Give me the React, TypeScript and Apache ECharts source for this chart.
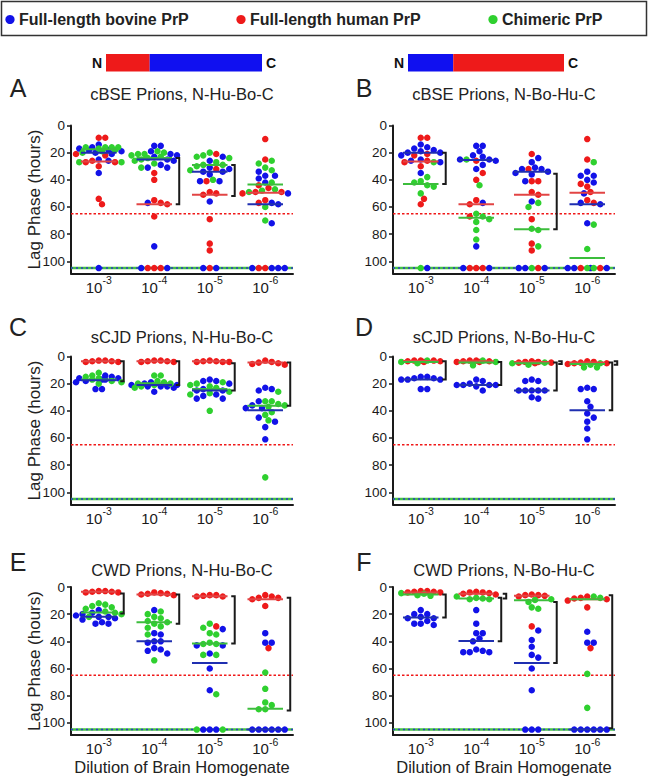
import React, { useEffect, useRef } from "react";
import * as echarts from "echarts";

// ---------- text ----------
const dilutionExponents = ["-3", "-4", "-5", "-6"];
const legendNames = ["Full-length bovine PrP", "Full-length human PrP", "Chimeric PrP"];
const panelLetters = ["A", "B", "C", "D", "E", "F"];
const panelTitles = [
  "cBSE Prions, N-Hu-Bo-C",
  "cBSE Prions, N-Bo-Hu-C",
  "sCJD Prions, N-Hu-Bo-C",
  "sCJD Prions, N-Bo-Hu-C",
  "CWD Prions, N-Hu-Bo-C",
  "CWD Prions, N-Bo-Hu-C",
];
const yAxisName = "Lag Phase (hours)";
const xAxisName = "Dilution of Brain Homogenate";
const terminusLabels = ["N", "C"];
// share of each chimeric construct taken by its N-terminal segment
const constructNShare = [0.28, 0.29];

const thresholdHours = 65;
const noAmplificationHours = 105;

// ---------- Panel A: cBSE, N-Hu-Bo-C ----------
const A_blue = [
  [14, 16, 17, 18, 18, 19, 20, 21, 25, 26, 35, 105],
  [15, 15, 19, 21, 22, 23, 25, 26, 29, 31, 31, 57, 89, 105, 105],
  [23, 26, 31, 32, 34, 34, 36, 41, 41, 56, 105, 105],
  [34, 37, 37, 39, 42, 50, 57, 58, 72, 105, 105, 105, 105],
];
const A_red = [
  [9, 9, 21, 22, 26, 27, 27, 30, 54, 58],
  [35, 40, 55, 57, 58, 67, 105, 105, 105],
  [21, 32, 41, 49, 50, 51, 69, 87, 92, 105],
  [10, 25, 44, 46, 49, 49, 50, 55, 57, 105, 105],
];
const A_green = [
  [16, 16, 16, 16, 17, 18, 19, 20, 27, 27],
  [19, 20, 21, 21, 22, 23, 24, 25, 26, 28, 31],
  [20, 22, 23, 24, 27, 29, 29, 30, 33, 40],
  [26, 28, 31, 33, 42, 47, 48, 49, 60, 70],
];
const A_blueMed = [20, 25, 34, 58];
const A_redMed = [26.5, 58, 51, 49.5];
const A_greenMed = [17.5, 24, 29, 43.5];
const A_brackets = [[1, 24, 58], [2, 29, 52]];
const A_smallBrackets: number[][] = [];

// ---------- Panel B: cBSE, N-Bo-Hu-C ----------
const B_blue = [
  [14, 16, 17, 18, 19, 20, 20, 22, 25, 26, 27, 35, 105],
  [15, 15, 19, 22, 23, 25, 25, 26, 29, 32, 57, 89, 105, 105],
  [24, 27, 31, 32, 32, 34, 35, 36, 41, 56, 105, 105, 105],
  [34, 37, 37, 40, 42, 50, 57, 58, 72, 105, 105, 105, 105],
];
const B_red = [
  [9, 9, 21, 22, 26, 27, 30, 54, 58],
  [26, 35, 40, 55, 58, 67, 105, 105, 105],
  [21, 32, 41, 41, 49, 51, 69, 87, 92, 105],
  [10, 25, 43, 45, 49, 55, 57, 105, 105],
];
const B_green = [
  [27, 38, 41, 42, 44, 45, 50, 105],
  [25, 44, 65, 67, 69, 71, 77, 84],
  [57, 60, 76, 77, 89, 105],
  [27, 73, 91, 105, 105],
];
const B_blueMed = [20, 25.5, 34, 58];
const B_redMed = [26.5, 58, 51, 49.5];
const B_greenMed = [43, 68, 76.5, 97.5];
const B_brackets = [[0, 20, 43], [2, 35.5, 76.5]];
const B_smallBrackets: number[][] = [];

// ---------- Panel C: sCJD, N-Hu-Bo-C ----------
const C_blue = [
  [14, 15, 16, 16, 17, 17, 18, 19, 24, 24],
  [19, 20, 21, 21, 22, 22, 22, 23, 26],
  [17, 18, 18, 20, 24, 25, 25, 28, 29, 31, 31],
  [23, 24, 25, 33, 36, 38, 38, 45, 48, 52, 61],
];
const C_red = [
  [3, 3, 3.5, 3.5, 4, 4],
  [3, 3, 3.5, 3.5, 4, 4],
  [3, 3.5, 3.5, 4, 4, 4],
  [3, 4, 4.5, 5, 5.5, 6],
];
const C_green = [
  [12, 14, 15, 16, 17, 18, 19, 20],
  [14, 14, 18, 19, 20, 20, 21, 22, 23],
  [19, 20, 21, 22, 23, 26, 27, 28, 40],
  [26, 33, 33, 35, 36, 37, 41, 43, 47, 89],
];
const C_blueMed = [17.5, 21, 25, 39.5];
const C_redMed = [3.5, 3.5, 3.5, 4.5];
const C_greenMed = [17, 19.7, 24, 36.3];
const C_brackets = [[0, 3.5, 18.3], [1, 3.5, 21], [2, 5, 25], [3, 4.5, 36.3]];
const C_smallBrackets: number[][] = [];

// ---------- Panel D: sCJD, N-Bo-Hu-C ----------
const D_blue = [
  [15, 15, 16, 16, 17, 17, 17, 24, 24],
  [17, 18, 20, 21, 21, 21, 21, 22, 25],
  [17, 18, 18, 25, 25, 25, 25, 25, 30, 31],
  [23, 24, 24, 33, 37, 42, 45, 48, 53, 61],
];
const D_red = [
  [3, 3, 3, 3.5, 3.5, 4],
  [3, 3, 3.5, 3.5, 4, 4],
  [3.5, 4, 4, 4.5, 4.5, 5],
  [3.5, 4, 4.5, 5, 5, 5.5],
];
const D_green = [
  [3, 4, 5],
  [3, 4, 6.5],
  [4.5, 5, 6],
  [5, 6, 8, 8],
];
const D_blueMed = [17, 21, 25, 39.5];
const D_redMed = [3.3, 3.5, 4, 4.5];
const D_greenMed = [4, 4.5, 5, 5.5];
const D_brackets = [[0, 3.5, 17], [1, 4, 21], [2, 4.5, 25], [3, 4.5, 39.5]];
const D_smallBrackets = [[2, 3.5, 5.5], [3, 3.5, 6]];

// ---------- Panel E: CWD, N-Hu-Bo-C ----------
const E_blue = [
  [17, 19, 20, 21, 22, 22, 23, 24, 26, 27, 27],
  [17, 34, 35, 40, 40, 41, 45, 46, 47, 49],
  [31, 43, 43, 49, 60, 76, 105, 105, 105],
  [34, 41, 41, 105, 105, 105, 105, 105, 105],
];
const E_red = [
  [3, 3, 3.5, 3.5, 4, 4],
  [4, 4.5, 5, 5, 5.5, 6],
  [6, 6, 6.5, 7, 7, 29],
  [6, 7, 8, 8, 9, 14, 45],
];
const E_green = [
  [12, 13, 14, 15, 16, 18, 19, 20, 22],
  [18, 20, 22, 23, 25, 26, 27, 29, 30, 35, 54],
  [27, 30, 34, 35, 41, 42, 42, 50, 50, 79, 105, 105],
  [63, 75, 85, 87, 90, 90],
];
const E_blueMed = [22, 40, 56, 105];
const E_redMed = [3.5, 5.5, 6.8, 9];
const E_greenMed = [18.8, 26, 41.7, 89.6];
const E_brackets = [[0, 4.7, 19.5], [1, 5.5, 27], [2, 6.8, 41.7], [3, 8, 91]];
const E_smallBrackets: number[][] = [];

// ---------- Panel F: CWD, N-Bo-Hu-C ----------
const F_blue = [
  [17, 20, 20, 22, 23, 23, 25, 27, 27, 28],
  [17, 27, 34, 34, 38, 40, 46, 47, 48, 48, 48],
  [32, 39, 44, 50, 52, 60, 76, 105, 105, 105],
  [33, 41, 41, 105, 105, 105, 105, 105, 105],
];
const F_red = [
  [3, 3, 3.5, 3.5, 4, 4],
  [3.5, 4, 4, 4.5, 5, 5.5],
  [5.5, 6, 6, 6.5, 7, 29],
  [7, 8, 8.5, 9, 10, 15, 45],
];
const F_green = [
  [4.5, 5, 6, 6.5],
  [7, 8, 8.5, 9, 9],
  [9, 9.5, 11, 15, 16],
  [7, 8, 64, 89],
];
const F_blueMed = [22.5, 39.7, 56, 105];
const F_redMed = [4, 5, 6.5, 9];
const F_greenMed = [5.5, 8.5, 9.7, 9];
const F_brackets = [[0, 5.5, 22.5], [1, 8, 40], [2, 11, 56], [3, 6, 104]];
const F_smallBrackets = [[1, 5, 8.5]];

const panels = [
  { blue: A_blue, red: A_red, green: A_green, blueMed: A_blueMed, redMed: A_redMed, greenMed: A_greenMed, brackets: A_brackets, small: A_smallBrackets },
  { blue: B_blue, red: B_red, green: B_green, blueMed: B_blueMed, redMed: B_redMed, greenMed: B_greenMed, brackets: B_brackets, small: B_smallBrackets },
  { blue: C_blue, red: C_red, green: C_green, blueMed: C_blueMed, redMed: C_redMed, greenMed: C_greenMed, brackets: C_brackets, small: C_smallBrackets },
  { blue: D_blue, red: D_red, green: D_green, blueMed: D_blueMed, redMed: D_redMed, greenMed: D_greenMed, brackets: D_brackets, small: D_smallBrackets },
  { blue: E_blue, red: E_red, green: E_green, blueMed: E_blueMed, redMed: E_redMed, greenMed: E_greenMed, brackets: E_brackets, small: E_smallBrackets },
  { blue: F_blue, red: F_red, green: F_green, blueMed: F_blueMed, redMed: F_redMed, greenMed: F_greenMed, brackets: F_brackets, small: F_smallBrackets },
];

// ---------- layout / style ----------
const FONT = "'Liberation Sans', Arial, Helvetica, sans-serif";
const GRID_LEFT = [71, 393];
const GRID_TOP = [125.5, 356.5, 587];
const GRID_W = 222;
const GRID_H = 148;
const Y_MAX = 109;
const X_PX = GRID_W / 4;
const Y_PX = GRID_H / Y_MAX;
const DOT = 6.5;
const MED_HALF = 0.32;
const BRACKET_OFF = 0.45;
const SMALL_BRACKET_OFF = 0.54;

const DOT_COLORS = { blue: "#1212e8", red: "#ee1a1a", green: "#2fd02f" };
const MED_COLORS = { blue: "#1f2fb0", red: "#e24444", green: "#3cbd3c" };
const INK = "#1a1a1a";

// beeswarm layout of one category: returns per-group [x, y] points
function swarm(cat: number, groups: number[][]) {
  const pts: { k: number; v: number }[] = [];
  const maxLen = Math.max(...groups.map((g) => g.length));
  for (let i = 0; i < maxLen; i++)
    for (let k = 0; k < groups.length; k++) if (i < groups[k].length) pts.push({ k, v: groups[k][i] });
  pts.sort((a, b) => a.v - b.v);
  const placed: { x: number; y: number }[] = [];
  const out: number[][][] = groups.map(() => []);
  const minD = DOT * 0.86;
  const cands = [0];
  for (let j = 1; j <= 7; j++) cands.push((j * DOT) / 2, (-j * DOT) / 2);
  for (const p of pts) {
    const py = p.v * Y_PX;
    let best = 0;
    let bestScore = -Infinity;
    for (const c of cands) {
      let md = Infinity;
      for (const q of placed) {
        const d = Math.hypot(c - q.x, py - q.y);
        if (d < md) md = d;
      }
      if (md >= minD) {
        best = c;
        break;
      }
      if (md > bestScore + 0.5) {
        bestScore = md;
        best = c;
      }
    }
    placed.push({ x: best, y: py });
    out[p.k].push([cat + best / X_PX, p.v]);
  }
  return out;
}

function buildOption() {
  const grid: any[] = [];
  const xAxis: any[] = [];
  const yAxis: any[] = [];
  const series: any[] = [];
  const graphic: any[] = [];

  panels.forEach((pn, p) => {
    const col = p % 2;
    const row = Math.floor(p / 2);
    const left = GRID_LEFT[col];
    const top = GRID_TOP[row];
    grid.push({ left, top, width: GRID_W, height: GRID_H, containLabel: false });
    xAxis.push({
      type: "value",
      gridIndex: p,
      min: -0.5,
      max: 3.5,
      interval: 0.5,
      axisLine: { onZero: false, lineStyle: { color: INK, width: 2 } },
      axisTick: { show: false },
      splitLine: { show: false },
      axisLabel: {
        margin: 1,
        formatter: (v: number) => {
          const i = Math.round(v);
          if (Math.abs(v - i) > 1e-6 || i < 0 || i > 3) return "";
          return `{n|10}{s|${dilutionExponents[i]}}`;
        },
        rich: {
          n: { fontSize: 15, color: INK, fontFamily: FONT, lineHeight: 20, verticalAlign: "bottom" },
          s: { fontSize: 10.5, color: INK, fontFamily: FONT, lineHeight: 9, verticalAlign: "top" },
        },
      },
    });
    yAxis.push({
      type: "value",
      gridIndex: p,
      inverse: true,
      min: 0,
      max: Y_MAX,
      interval: 20,
      axisLine: { onZero: false, lineStyle: { color: INK, width: 2 } },
      axisTick: { show: true, length: 4, lineStyle: { color: INK, width: 1.5 } },
      splitLine: { show: false },
      axisLabel: {
        fontSize: 13.5,
        color: INK,
        fontFamily: FONT,
        margin: 6,
        showMaxLabel: false,
        formatter: (v: number) => (v % 20 === 0 ? String(v) : ""),
      },
    });

    const ax = { xAxisIndex: p, yAxisIndex: p };
    // reference lines
    series.push({
      type: "line", ...ax, silent: true, symbol: "none", z: 2,
      data: [[-0.5, thresholdHours], [3.5, thresholdHours]],
      lineStyle: { color: "#f01818", width: 1.5, type: [2.5, 2] },
    });
    series.push({
      type: "line", ...ax, silent: true, symbol: "none", z: 2,
      data: [[-0.5, noAmplificationHours], [3.5, noAmplificationHours]],
      lineStyle: { color: "#46c046", width: 2.5 },
    });
    series.push({
      type: "line", ...ax, silent: true, symbol: "none", z: 2,
      data: [[-0.5, noAmplificationHours], [3.5, noAmplificationHours]],
      lineStyle: { color: "#2a3ac8", width: 1.5, type: [2, 3] },
    });

    // points
    const pos: Record<string, number[][]> = { blue: [], red: [], green: [] };
    for (let c = 0; c < 4; c++) {
      const out = swarm(c, [pn.red[c], pn.blue[c], pn.green[c]]);
      pos.red.push(...out[0]);
      pos.blue.push(...out[1]);
      pos.green.push(...out[2]);
    }
    (["red", "blue", "green"] as const).forEach((k) => {
      series.push({
        type: "scatter", ...ax, silent: true, z: 3,
        symbol: "circle", symbolSize: DOT,
        itemStyle: { color: DOT_COLORS[k], opacity: 1 },
        data: pos[k],
      });
    });

    // medians
    const meds: [keyof typeof MED_COLORS, number[]][] = [
      ["red", pn.redMed],
      ["green", pn.greenMed],
      ["blue", pn.blueMed],
    ];
    meds.forEach(([k, arr]) => {
      series.push({
        type: "custom", ...ax, silent: true, z: 4, clip: false,
        data: arr.map((m, i) => [i, m]),
        renderItem: (_params: any, api: any) => {
          const c = api.value(0);
          const v = api.value(1);
          const a = api.coord([c - MED_HALF, v]);
          const b = api.coord([c + MED_HALF, v]);
          return {
            type: "line",
            shape: { x1: a[0], y1: a[1], x2: b[0], y2: b[1] },
            style: { stroke: MED_COLORS[k], lineWidth: 2 },
          };
        },
      });
    });

    // significance brackets
    const bracketSeries = (list: number[][], off: number) => ({
      type: "custom", ...ax, silent: true, z: 5, clip: false,
      data: list.map((b) => [b[0], b[1], b[2]]),
      renderItem: (_params: any, api: any) => {
        const c = api.value(0);
        const a = api.coord([c + off, api.value(1)]);
        const b = api.coord([c + off, api.value(2)]);
        return {
          type: "polyline",
          shape: { points: [[a[0] - 3.5, a[1]], [a[0], a[1]], [b[0], b[1]], [b[0] - 3.5, b[1]]] },
          style: { stroke: INK, lineWidth: 2, fill: "none" },
        };
      },
    });
    series.push(bracketSeries(pn.brackets, BRACKET_OFF));
    if (pn.small.length) series.push(bracketSeries(pn.small, SMALL_BRACKET_OFF));

    // panel letter and title
    const cx = left + GRID_W / 2;
    const titleY = [93.5, 337, 570][row];
    const letterY = [88, 327, 562][row];
    graphic.push({
      type: "text", x: col === 0 ? 18 : 364, y: letterY, silent: true,
      style: { text: panelLetters[p], fontSize: 25, fontFamily: FONT, fill: "#222", textAlign: "center", textVerticalAlign: "middle", align: "center", verticalAlign: "middle" },
    });
    graphic.push({
      type: "text", x: cx, y: titleY, silent: true,
      style: { text: panelTitles[p], fontSize: 16.5, fontFamily: FONT, fill: "#222", textAlign: "center", textVerticalAlign: "middle", align: "center", verticalAlign: "middle" },
    });
    if (col === 0) {
      graphic.push({
        type: "text", x: 34.5, y: top + GRID_H / 2, rotation: Math.PI / 2, silent: true,
        style: { text: yAxisName, fontSize: 17, fontFamily: FONT, fill: "#222", textAlign: "center", textVerticalAlign: "middle", align: "center", verticalAlign: "middle" },
      });
    }
    if (row === 2) {
      graphic.push({
        type: "text", x: cx, y: 766.5, silent: true,
        style: { text: xAxisName, fontSize: 16.5, fontFamily: FONT, fill: "#222", textAlign: "center", textVerticalAlign: "middle", align: "center", verticalAlign: "middle" },
      });
    }
  });

  // legend box
  graphic.push({
    type: "rect", silent: true,
    shape: { x: 1.5, y: 1.5, width: 645, height: 34 },
    style: { fill: "#fff", stroke: "#333", lineWidth: 1.5 },
    z: 0,
  });
  const legendColors = [DOT_COLORS.blue, DOT_COLORS.red, DOT_COLORS.green];
  const legendDotX = [10, 241, 493];
  legendNames.forEach((name, i) => {
    graphic.push({
      type: "circle", silent: true,
      shape: { cx: legendDotX[i], cy: 19.5, r: 4.6 },
      style: { fill: legendColors[i] },
    });
    graphic.push({
      type: "text", x: legendDotX[i] + 9, y: 19.5, silent: true,
      style: { text: name, fontSize: 16, fontWeight: "bold", fontFamily: FONT, fill: "#222", textAlign: "left", textVerticalAlign: "middle", align: "left", verticalAlign: "middle" },
    });
  });

  // construct schematic bars
  const barX = [106, 408];
  const barW = 156;
  const barColors = [
    [DOT_COLORS.red, "#1010f0"],
    ["#1010f0", DOT_COLORS.red],
  ];
  [0, 1].forEach((b) => {
    const nW = barW * constructNShare[b];
    graphic.push({ type: "rect", silent: true, shape: { x: barX[b], y: 54, width: nW, height: 17.5 }, style: { fill: barColors[b][0] } });
    graphic.push({ type: "rect", silent: true, shape: { x: barX[b] + nW, y: 54, width: barW - nW, height: 17.5 }, style: { fill: barColors[b][1] } });
    graphic.push({
      type: "text", x: barX[b] - 9, y: 63, silent: true,
      style: { text: terminusLabels[0], fontSize: 14, fontWeight: "bold", fontFamily: FONT, fill: "#111", textAlign: "center", textVerticalAlign: "middle", align: "center", verticalAlign: "middle" },
    });
    graphic.push({
      type: "text", x: barX[b] + barW + 9, y: 63, silent: true,
      style: { text: terminusLabels[1], fontSize: 14, fontWeight: "bold", fontFamily: FONT, fill: "#111", textAlign: "center", textVerticalAlign: "middle", align: "center", verticalAlign: "middle" },
    });
  });

  return {
    animation: false,
    backgroundColor: "#ffffff",
    textStyle: { fontFamily: FONT },
    grid,
    xAxis,
    yAxis,
    series,
    graphic,
  };
}

export default function App() {
  const ref = useRef<HTMLDivElement>(null);
  useEffect(() => {
    if (!ref.current) return;
    const chart = echarts.init(ref.current, undefined, { renderer: "svg" });
    chart.setOption(buildOption() as any);
    return () => chart.dispose();
  }, []);
  return (
    <div
      ref={ref}
      style={{ position: "fixed", left: 0, top: 0, width: 650, height: 778, background: "#fff" }}
    />
  );
}
